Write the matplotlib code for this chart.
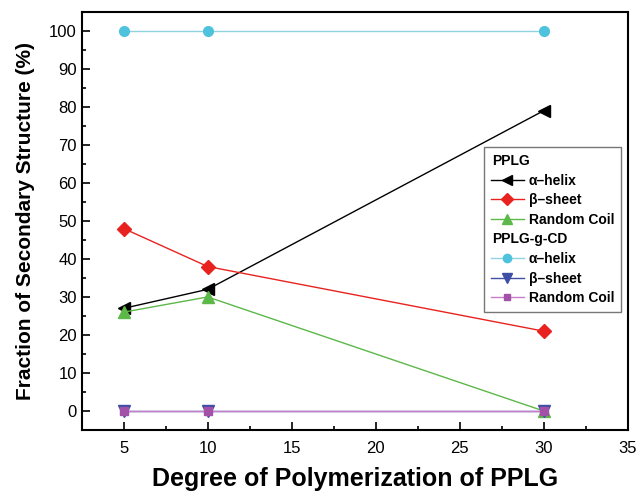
import numpy as np
import matplotlib.pyplot as plt
from matplotlib.lines import Line2D
from matplotlib.ticker import MultipleLocator

plt.rcParams['font.family'] = ['Liberation Sans', 'DejaVu Sans']

dp = [5, 10, 30]
pplg_helix = [27, 32, 79]
pplg_sheet = [48, 38, 21]
pplg_coil = [26, 30, 0]
cd_helix = [100, 100, 100]
cd_sheet = [0, 0, 0]
cd_coil = [0, 0, 0]

fig = plt.figure(figsize=(6.38, 4.92), dpi=100)
ax = fig.add_axes([0.128, 0.126, 0.856, 0.85])

ax.plot(dp, pplg_helix, color='black', marker='<', ms=8, lw=1)
ax.plot(dp, pplg_sheet, color='#e8231f', marker='D', ms=7, lw=1)
ax.plot(dp, pplg_coil, color='#5cb848', marker='^', ms=8, lw=1)
ax.plot(dp, cd_helix, color='#8fd3e0', marker='o', ms=7, lw=1, mfc='#4fc3dd', mec='#4fc3dd')
ax.plot(dp, cd_sheet, color='#3d4fa5', marker='v', ms=8, lw=1)
ax.plot(dp, cd_coil, color='#c77fc9', marker='s', ms=6, lw=1, mfc='#a350a8', mec='#a350a8')

ax.set_xlim(2.5, 35)
ax.set_ylim(-5, 105)
ax.xaxis.set_major_locator(MultipleLocator(5))
ax.xaxis.set_minor_locator(MultipleLocator(2.5))
ax.yaxis.set_major_locator(MultipleLocator(10))
ax.yaxis.set_minor_locator(MultipleLocator(5))
ax.tick_params(which='both', direction='in', labelsize=12, width=1.2)
ax.tick_params(which='major', length=6)
ax.tick_params(which='minor', length=3)
ax.tick_params(axis='x', pad=8)
for s in ax.spines.values():
    s.set_linewidth(1.5)

ax.set_xlabel('Degree of Polymerization of PPLG', fontsize=18, fontweight='bold', labelpad=8)
ax.set_ylabel('Fraction of Secondary Structure (%)', fontsize=15, fontweight='bold', labelpad=10)

blank = Line2D([], [], color='none')
handles = [
    blank,
    Line2D([], [], color='black', marker='<', ms=7, lw=1),
    Line2D([], [], color='#e8231f', marker='D', ms=6, lw=1),
    Line2D([], [], color='#5cb848', marker='^', ms=7, lw=1),
    blank,
    Line2D([], [], color='#8fd3e0', marker='o', ms=6, lw=1, mfc='#4fc3dd', mec='#4fc3dd'),
    Line2D([], [], color='#3d4fa5', marker='v', ms=7, lw=1),
    Line2D([], [], color='#c77fc9', marker='s', ms=5, lw=1, mfc='#a350a8', mec='#a350a8'),
]
labels = ['PPLG', '\u03b1\u2013helix', '\u03b2\u2013sheet', 'Random Coil',
          'PPLG-g-CD', '\u03b1\u2013helix', '\u03b2\u2013sheet', 'Random Coil']
leg = ax.legend(handles, labels, loc='upper right', bbox_to_anchor=(0.988, 0.676),
                fontsize=10, frameon=True, fancybox=False, edgecolor='#555555',
                handlelength=2.4, handletextpad=0.35, labelspacing=0.4, borderpad=0.5,
                borderaxespad=0)
leg.get_frame().set_linewidth(1.0)
for t in leg.get_texts():
    t.set_fontweight('bold')
for i in (0, 4):
    leg.get_texts()[i].set_position((-37, 0))

fig.savefig('out.png', dpi=100)
